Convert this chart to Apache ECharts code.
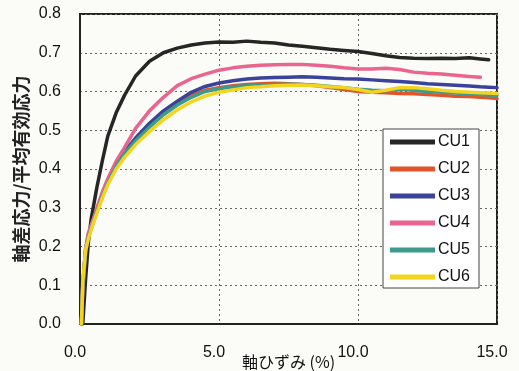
<!DOCTYPE html>
<html><head><meta charset="utf-8">
<script src="https://cdn.jsdelivr.net/npm/echarts@6/dist/echarts.min.js"></script>
<style>html,body{margin:0;padding:0;background:#fbfbf7;}#c{width:519px;height:371px;}</style>
</head><body><div id="c"></div>
<script>
var strain = [0.05,0.1,0.2,0.3,0.4,0.5,0.6,0.8,1.0,1.3,1.6,2.0,2.5,3.0,3.5,4.0,4.5,5.0,5.5,6.0,6.5,7.0,7.5,8.0,8.5,9.0,9.5,10.0,10.5,11.0,11.5,12.0,12.5,13.0,13.5,14.0,14.4,14.7,15.0];
var seriesNames = ['CU1','CU2','CU3','CU4','CU5','CU6'];
var cu1 = [null,0.0,0.115,0.21,0.27,0.31,0.35,0.42,0.485,0.545,0.59,0.64,0.678,0.70,0.712,0.72,0.725,0.728,0.727,0.73,0.727,0.725,0.72,0.717,0.713,0.709,0.706,0.703,0.698,0.692,0.688,0.686,0.685,0.686,0.685,0.687,0.684,0.682,null];
var cu2 = [0,0.09,0.185,0.228,0.248,0.268,0.29,0.33,0.366,0.41,0.443,0.478,0.515,0.545,0.57,0.59,0.603,0.61,0.615,0.618,0.62,0.621,0.62,0.618,0.615,0.61,0.605,0.60,0.598,0.597,0.595,0.594,0.592,0.59,0.588,0.587,0.585,0.584,0.582];
var cu3 = [0,0.10,0.19,0.23,0.25,0.27,0.292,0.332,0.368,0.412,0.445,0.48,0.518,0.55,0.575,0.598,0.613,0.622,0.628,0.632,0.635,0.636,0.637,0.638,0.637,0.635,0.633,0.632,0.63,0.628,0.626,0.623,0.62,0.618,0.616,0.614,0.612,0.611,0.61];
var cu4 = [0,0.10,0.195,0.235,0.255,0.275,0.298,0.34,0.375,0.42,0.455,0.505,0.55,0.585,0.615,0.633,0.645,0.655,0.661,0.665,0.668,0.669,0.67,0.67,0.668,0.665,0.661,0.658,0.658,0.66,0.657,0.65,0.647,0.645,0.642,0.639,0.637,null,null];
var cu5 = [0,0.10,0.185,0.225,0.246,0.267,0.288,0.328,0.364,0.407,0.44,0.473,0.508,0.54,0.565,0.585,0.60,0.607,0.612,0.615,0.617,0.618,0.619,0.618,0.616,0.613,0.61,0.606,0.603,0.602,0.605,0.603,0.60,0.598,0.596,0.594,0.592,0.591,0.59];
var cu6 = [0,0.11,0.19,0.22,0.243,0.265,0.285,0.325,0.36,0.40,0.43,0.463,0.497,0.527,0.553,0.573,0.588,0.598,0.604,0.61,0.612,0.615,0.616,0.617,0.615,0.612,0.61,0.605,0.598,0.603,0.61,0.61,0.607,0.603,0.60,0.598,0.597,0.596,0.595];
var xTicks = ['0.0','5.0','10.0','15.0'];
var yTicks = ['0.0','0.1','0.2','0.3','0.4','0.5','0.6','0.7','0.8'];
var colors = ['#262626','#e2552b','#3b4299','#e9648f','#3d9b8c','#f3d420'];
var allValues = [cu1,cu2,cu3,cu4,cu5,cu6];

function pairs(v){var out=[];for(var i=0;i<strain.length;i++){if(v[i]!==null)out.push([strain[i],v[i]]);}return out;}

var chart = echarts.init(document.getElementById('c'));
chart.setOption({
  backgroundColor:'#fbfbf7',
  animation:false,
  grid:{left:80,top:14,right:22,bottom:47,show:true,borderColor:'#222',borderWidth:2,backgroundColor:'transparent',outerBoundsMode:'none',containLabel:false},
  legend:{
    orient:'vertical',left:383,top:129,
    data:seriesNames,
    icon:'rect',
    itemWidth:45,itemHeight:5,itemGap:11,
    padding:[5,9,3,7],
    backgroundColor:'#fff',borderColor:'#444',borderWidth:1,
    textStyle:{fontFamily:'Liberation Sans',fontSize:16,color:'#111',padding:[0,0,0,-2]}
  },
  xAxis:{
    type:'value',min:0,max:15,interval:5,
    name:'軸ひずみ (%)',nameLocation:'middle',nameGap:30,nameMoveOverlap:false,
    nameTextStyle:{fontFamily:'Noto Sans CJK JP',fontSize:16,color:'#111'},
    axisLine:{show:true,lineStyle:{color:'#222',width:2}},
    axisTick:{show:false},
    axisLabel:{margin:21,fontFamily:'Liberation Sans',fontSize:16,color:'#111',padding:[0,10,0,0],
      formatter:function(v){return xTicks[Math.round(v/5)];}},
    splitLine:{show:true,lineStyle:{type:[2,3],color:'#666',width:1}}
  },
  yAxis:{
    type:'value',min:0,max:0.8,interval:0.1,
    name:'軸差応力/平均有効応力',nameLocation:'middle',nameGap:50,nameRotate:90,nameMoveOverlap:false,
    nameTextStyle:{fontFamily:'Noto Sans CJK JP',fontSize:18,fontWeight:'bold',color:'#222'},
    axisLine:{show:true,lineStyle:{color:'#222',width:2}},
    axisTick:{show:false},
    axisLabel:{margin:19,fontFamily:'Liberation Sans',fontSize:16,color:'#111',
      formatter:function(v){return yTicks[Math.round(v*10)];}},
    splitLine:{show:true,lineStyle:{type:[2,3],color:'#666',width:1}}
  },
  series:seriesNames.map(function(n,i){
    return {name:n,type:'line',data:pairs(allValues[i]),showSymbol:false,symbol:'none',smooth:false,
      color:colors[i],lineStyle:{width:3.5,color:colors[i],join:'round',cap:'round'},z:2+i};
  })
});
</script></body></html>
